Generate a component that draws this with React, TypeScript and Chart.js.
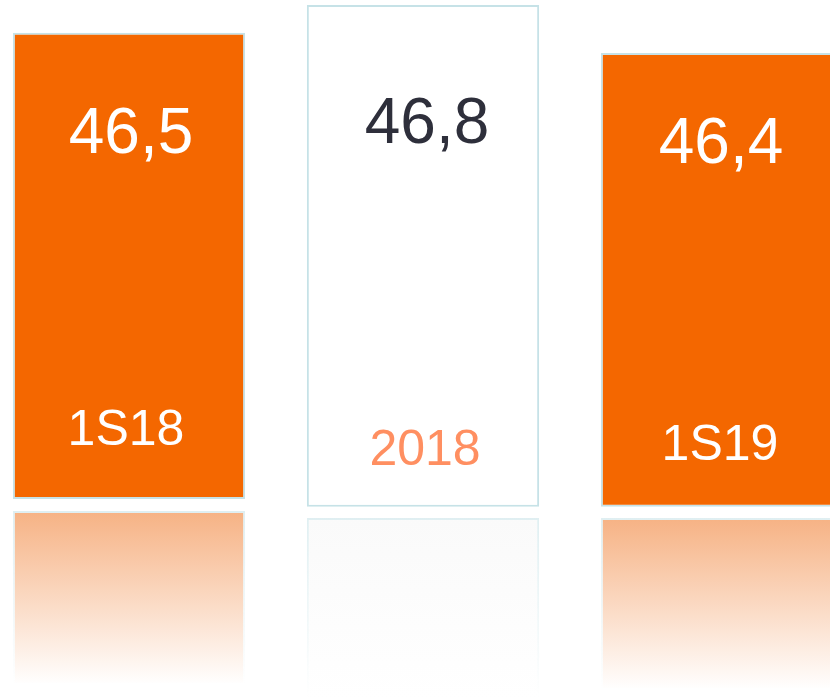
import React, { useEffect, useRef } from "react";
import { Chart, registerables } from "chart.js";
Chart.register(...registerables);

// ---- data ----
const categories = ["1S18", "2018", "1S19"];
const values = [46.5, 46.8, 46.4];
// bar extents on the chart's 0–100 visual scale (as drawn in the picture)
const barBase = [28.6, 27.5, 27.5];
const barTop = [95.3, 99.3, 92.4];
const reflectionTop = [26.9, 25.9, 25.9];
const reflectionBottom = [2.0, 0, 1.3];

const formatValue = (v: number) => v.toFixed(1).replace(".", ",");

// ---- styles ----
const barFill = ["#f46700", "#ffffff", "#f46700"];
const reflectionColor = ["rgba(246,178,132,1)", "rgba(250,250,250,1)", "rgba(246,178,132,1)"];
const valueColor = ["#ffffff", "#2e2f3b", "#ffffff"];
const categoryColor = ["#ffffff", "#ff8f61", "#ffffff"];
const valueBaselineOffset = [120, 138, 110];
const categoryBaselineOffset = [-54, -42, -47];
const valueXOffset = [2, 4, 4];
const categoryXOffset = [-3, 2, 3];
const BORDER = "#c6e2e7";

const labelPlugin = {
  id: "barLabels",
  afterDatasetsDraw(chart: any) {
    const meta = chart.getDatasetMeta(0);
    const c = chart.ctx;
    c.save();
    c.textAlign = "center";
    c.textBaseline = "alphabetic";
    meta.data.forEach((el: any, i: number) => {
      const { x, y, base } = el.getProps(["x", "y", "base"], true);
      const top = Math.min(y, base);
      const bottom = Math.max(y, base);
      c.font = "64px 'Liberation Sans', Arial, sans-serif";
      c.fillStyle = valueColor[i];
      c.fillText(formatValue(values[i]), x + valueXOffset[i], top + valueBaselineOffset[i]);
      c.font = "50px 'Liberation Sans', Arial, sans-serif";
      c.fillStyle = categoryColor[i];
      c.fillText(categories[i], x + categoryXOffset[i], bottom + categoryBaselineOffset[i]);
    });
    c.restore();
  },
};

function reflGradient(ctx: any, i: number, isBorder: boolean) {
  const chart = ctx.chart;
  const fallback = isBorder ? "rgba(198,226,231,0.3)" : "#fbe0cf";
  const ys = chart.scales && chart.scales.y;
  if (!ys || i === undefined || !chart.chartArea) return fallback;
  const t = ys.getPixelForValue(reflectionTop[i]);
  const b = ys.getPixelForValue(reflectionBottom[i]);
  if (!Number.isFinite(t) || !Number.isFinite(b)) return fallback;
  const g = chart.ctx.createLinearGradient(0, t, 0, b);
  if (isBorder) {
    g.addColorStop(0, "rgba(198,226,231,0.55)");
    g.addColorStop(1, "rgba(198,226,231,0)");
  } else {
    g.addColorStop(0, reflectionColor[i]);
    g.addColorStop(1, "rgba(255,255,255,1)");
  }
  return g;
}

export default function App() {
  const ref = useRef<HTMLCanvasElement>(null);
  useEffect(() => {
    if (!ref.current) return;
    const chart = new Chart(ref.current, {
      type: "bar",
      data: {
        labels: categories,
        datasets: [
          {
            label: "value",
            data: categories.map((_, i) => [barBase[i], barTop[i]]) as any,
            backgroundColor: barFill,
            borderColor: BORDER,
            borderWidth: 2,
            borderSkipped: false,
            grouped: false,
            barPercentage: 0.79,
            categoryPercentage: 1,
          } as any,
          {
            label: "reflection",
            data: categories.map((_, i) => [reflectionBottom[i], reflectionTop[i]]) as any,
            backgroundColor: (ctx: any) => reflGradient(ctx, ctx.dataIndex, false),
            borderColor: (ctx: any) => reflGradient(ctx, ctx.dataIndex, true),
            borderWidth: 2,
            borderSkipped: false,
            grouped: false,
            barPercentage: 0.79,
            categoryPercentage: 1,
          } as any,
        ],
      },
      options: {
        responsive: false,
        animation: false,
        layout: { padding: 0 },
        plugins: { legend: { display: false }, tooltip: { enabled: false } },
        scales: {
          x: { display: false, offset: true },
          y: { display: false, min: 0, max: 100 },
        },
      },
      plugins: [labelPlugin],
    });
    return () => chart.destroy();
  }, []);
  return (
    <div style={{ position: "fixed", left: 0, top: 0, width: 830, height: 699, overflow: "hidden", background: "#fff" }}>
      <div style={{ position: "absolute", left: -18, top: 0, width: 882, height: 699 }}>
        <canvas ref={ref} width={882} height={699} style={{ display: "block" }} />
      </div>
    </div>
  );
}
